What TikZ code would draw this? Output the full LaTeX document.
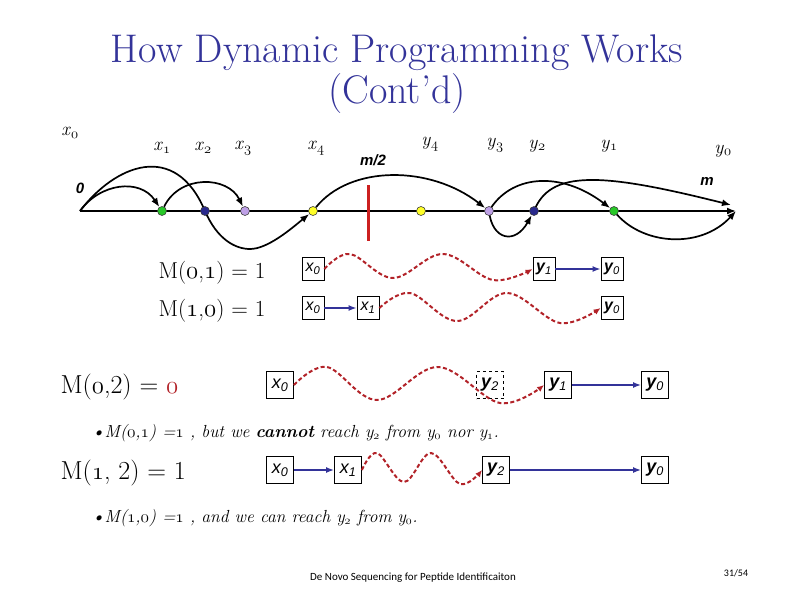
\documentclass[tikz,border=0pt]{standalone}
\usepackage{fontspec}
\newfontfamily\arial{Liberation Sans}
\newfontfamily\footfont{Carlito}
\usetikzlibrary{arrows.meta}
\definecolor{titleblue}{RGB}{51,51,153}
\definecolor{arrblue}{RGB}{51,51,153}
\definecolor{wavered}{RGB}{178,34,40}
\definecolor{mred}{RGB}{204,32,32}
\definecolor{dgreen}{RGB}{40,200,40}
\definecolor{dblue}{RGB}{40,40,140}
\definecolor{lpurple}{RGB}{190,160,230}
\definecolor{dyellow}{RGB}{255,255,40}
\newcommand{\osn}[1]{{\usefont{OML}{cmm}{m}{it}#1}}
\newcommand{\tl}[2]{\textit{#1}\textsubscript{\osn{#2}}}
\pgfdeclarelayer{bg}
\pgfsetlayers{bg,main}
\begin{document}
\begin{tikzpicture}[x=1pt,y=-1pt,
  dot/.style={circle, inner sep=0pt, minimum size=9pt, draw=black!75, line width=0.6pt},
  blk/.style={line width=1.7pt, -{Latex[length=9pt,width=7pt]}},
  bx/.style={draw, line width=0.8pt, minimum width=22pt, minimum height=23pt, inner sep=0pt, font=\arial\itshape\fontsize{16}{16}\selectfont},
  bxl/.style={bx, minimum width=27pt, minimum height=27pt, font=\arial\itshape\fontsize{18}{18}\selectfont},
  barr/.style={draw=arrblue, line width=1.6pt, -{Latex[length=8pt,width=6pt]}},
  wave/.style={draw=wavered, line width=2pt, dash pattern=on 4pt off 2.5pt, -{Latex[length=7pt,width=6pt]}},
  toplab/.style={font=\fontsize{19}{19}\selectfont},
  mlab/.style={anchor=base west, font=\fontsize{23}{23}\selectfont},
  bull/.style={anchor=base west, font=\itshape\fontsize{17.5}{17.5}\selectfont},
  ital/.style={font=\arial\bfseries\itshape\fontsize{15}{15}\selectfont}
]
\useasboundingbox (0,0) rectangle (794,595);

% title
\node[anchor=base, text=titleblue, font=\fontsize{40}{40}\selectfont] (t1) at (397,62) {How Dynamic Programming Works};
\node[anchor=base, text=titleblue, font=\fontsize{40}{40}\selectfont] (t2) at (397,103) {(Cont'd)};

% top labels
\node[toplab] (lx0) at (70,133) {\tl{x}{0}};
\node[toplab] (lx1) at (162,148) {\tl{x}{1}};
\node[toplab] (lx2) at (203,148) {\tl{x}{2}};
\node[toplab] (lx3) at (243,148) {\tl{x}{3}};
\node[toplab] (lx4) at (316,148) {\tl{x}{4}};
\node[toplab] (ly4) at (430,144) {\tl{y}{4}};
\node[toplab] (ly3) at (495,145) {\tl{y}{3}};
\node[toplab] (ly2) at (537,146) {\tl{y}{2}};
\node[toplab] (ly1) at (609,146) {\tl{y}{1}};
\node[toplab] (ly0) at (723,151) {\tl{y}{0}};
\node[ital] (lm2) at (373,160) {m/2};
\node[ital] (lm) at (707,181) {m};
\node[ital] (l0) at (80,188) {0};

% axis points
\coordinate (p0) at (80,211);
\coordinate (pend) at (736,211);
\coordinate (mtip) at (731,205);
\node[dot, fill=dgreen] (x1) at (162,211) {};
\node[dot, fill=dblue] (x2) at (205,211) {};
\node[dot, fill=lpurple] (x3) at (245,211) {};
\node[dot, fill=dyellow] (x4) at (313,211) {};
\node[dot, fill=dyellow] (y4) at (421,211) {};
\node[dot, fill=lpurple] (y3) at (489,211) {};
\node[dot, fill=dblue] (y2) at (534,211) {};
\node[dot, fill=dgreen] (y1) at (614,211) {};
\coordinate (tr1) at (250,249);

\begin{pgfonlayer}{bg}
\draw[blk] (p0) -- (pend);
\draw[blk] (p0) .. controls (100,183) and (140,178) .. (x1);
\draw[blk] (p0) .. controls (115,165) and (175,140) .. (x2.center)
  .. controls (217,239) and (235,249) .. (tr1)
  .. controls (268,249) and (292,228) .. (x4);
\draw[blk] (x1) .. controls (180,174) and (228,176) .. (x3);
\draw[blk] (x4) .. controls (350,165) and (430,165) .. (y3);
\draw[blk] (y3.center) .. controls (510,175) and (560,170) .. (y1);
\draw[blk] (y3.center) .. controls (492,240) and (515,245) .. (y2);
\draw[blk] (y2.center) .. controls (550,170) and (600,172) .. (mtip);
\draw[blk] (y1.center) .. controls (640,245) and (700,250) .. (pend);
\end{pgfonlayer}
\draw[mred, line width=3pt] (368,185) -- (368,241);

% row 1
\node[mlab] (m1) at (155,278) {M(\osn{0},\osn{1}) = 1};
\node[bx] (r1x0) at (313,269) {x\textsubscript{0}};
\node[bx] (r1y1) at (544,269) {\textbf{y}\textsubscript{1}};
\node[bx] (r1y0) at (612,269) {\textbf{y}\textsubscript{0}};
\draw[wave] plot[smooth, tension=0.6] coordinates {(r1x0.east) (350,254) (393,278) (443,254) (493,280) (r1y1.west)};
\draw[barr] (r1y1) -- (r1y0);

% row 2
\node[mlab] (m2) at (155,316) {M(\osn{1},\osn{0}) = 1};
\node[bx] (r2x0) at (313,308) {x\textsubscript{0}};
\node[bx] (r2x1) at (368,308) {x\textsubscript{1}};
\node[bx] (r2y0) at (612,308) {\textbf{y}\textsubscript{0}};
\draw[barr] (r2x0) -- (r2x1);
\draw[wave] plot[smooth, tension=0.6] coordinates {(r2x1.east) (410,293) (457,321) (507,293) (560,323) (r2y0.west)};

% row 3
\node[mlab, font=\fontsize{26}{26}\selectfont] (m3) at (57,393) {M(\osn{0},2) = {\color{wavered}\osn{0}}};
\node[bxl] (r3x0) at (280,385) {x\textsubscript{0}};
\node[bxl, dashed] (r3y2) at (490,385) {\textbf{y}\textsubscript{2}};
\node[bxl] (r3y1) at (558,385) {\textbf{y}\textsubscript{1}};
\node[bxl] (r3y0) at (655,385) {\textbf{y}\textsubscript{0}};
\draw[wave] plot[smooth, tension=0.6] coordinates {(r3x0.east) (327,367) (377,400) (438,367) (500,403) (r3y1.west)};
\draw[barr] (r3y1) -- (r3y0);

\node[bull] (b1) at (88,437) {\textbullet M(\osn{0},\osn{1}) =\osn{1} , but we \textbf{cannot} reach y\textsubscript{\osn{2}} from y\textsubscript{\osn{0}} nor y\textsubscript{\osn{1}}.};

% row 4
\node[mlab, font=\fontsize{26}{26}\selectfont] (m4) at (57,479) {M(\osn{1}, 2) = 1};
\node[bxl] (r4x0) at (280,470) {x\textsubscript{0}};
\node[bxl] (r4x1) at (348,470) {x\textsubscript{1}};
\node[bxl] (r4y2) at (496,470) {\textbf{y}\textsubscript{2}};
\node[bxl] (r4y0) at (655,470) {\textbf{y}\textsubscript{0}};
\draw[barr] (r4x0) -- (r4x1);
\draw[wave] plot[smooth, tension=0.6] coordinates {(r4x1.east) (377,453) (404,482) (431,453) (460,484) (r4y2.west)};
\draw[barr] (r4y2) -- (r4y0);

\node[bull] (b2) at (88,522) {\textbullet M(\osn{1},\osn{0}) =\osn{1} , and we can reach y\textsubscript{\osn{2}} from y\textsubscript{\osn{0}}.};

% footer
\node[font=\footfont\fontsize{11}{11}\selectfont] (ft) at (413,578) {De Novo Sequencing for Peptide Identificaiton};
\node[font=\footfont\fontsize{10}{10}\selectfont] (pg) at (736,573) {31/54};
\end{tikzpicture}
\end{document}
